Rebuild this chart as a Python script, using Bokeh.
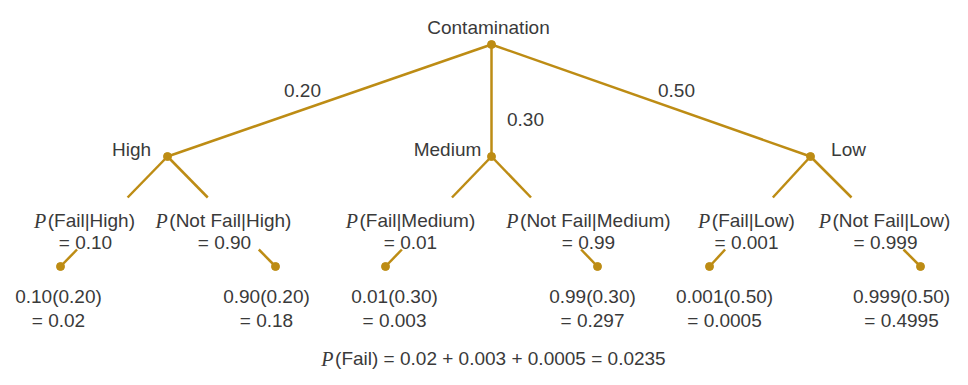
from bokeh.plotting import figure
from bokeh.models import Range1d
from bokeh.core.properties import value
from bokeh.embed import file_html
from bokeh.resources import INLINE

# ---------------- data ----------------
root_label = "Contamination"
categories = ["High", "Medium", "Low"]
prior_labels = ["0.20", "0.30", "0.50"]
fail_labels = ["0.10", "0.01", "0.001"]
notfail_labels = ["0.90", "0.99", "0.999"]
joint_fail = ["0.02", "0.003", "0.0005"]
joint_notfail = ["0.18", "0.297", "0.4995"]
total_fail = "0.0235"

# ---------------- layout (pixel space of the picture) ----------------
GOLD = "#BD8C14"
TXT = "#3a3a3a"
SANS = "Liberation Sans"
FS = 19
ROOT = (491, 44)
L1_X = [167, 491, 810]
L1_Y = 156
LEAF_X = [60, 275, 385, 597, 709, 920]
LEAF_Y = 266
GAP_TOP, GAP_BOT = 197, 249
COND_CX = [84, 223, 410, 588, 746, 884]
COND_VX = [85, 224, 410, 588, 746, 885]
COND_Y = (220, 242)
LEAF_CX = [58, 266, 394, 592, 724, 901]
LEAF_TY = (296, 320)
CAT_X = [131, 447, 848]
CAT_Y = 149
PRIOR_POS = [(302, 89.5), (525, 118.5), (676, 89.5)]
ROOT_LABEL_POS = (488, 27)
FORMULA_CX, FORMULA_Y = 493, 358

W = {' ': 278, '(': 333, ')': 333, '|': 260, '=': 584, '+': 584, '.': 278,
     'F': 611, 'H': 722, 'L': 556, 'M': 833, 'N': 722, 'a': 556, 'd': 556,
     'e': 556, 'g': 556, 'h': 556, 'i': 222, 'l': 222, 'm': 833, 'o': 556,
     't': 278, 'u': 556, 'w': 722}
for ch in "0123456789":
    W[ch] = 556


def tw(s, size=FS):
    return sum(W.get(c, 556) for c in s) * size / 1000.0


P_SIZE = 20
P_W = 0.611 * P_SIZE + 1.5

p = figure(width=952, height=369, x_range=Range1d(0, 952), y_range=Range1d(369, 0),
           output_backend="svg", toolbar_location=None, min_border=0,
           x_axis_location=None, y_axis_location=None)
p.grid.visible = False
p.outline_line_color = None
p.background_fill_color = "white"
p.border_fill_color = "white"

# level-1 branches
p.segment(x0=[ROOT[0]] * 3, y0=[ROOT[1]] * 3, x1=L1_X, y1=[L1_Y] * 3,
          line_color=GOLD, line_width=2.5)

# level-2 branches (interrupted by the labels)
x0s, y0s, x1s, y1s = [], [], [], []
for i, lx in enumerate(LEAF_X):
    px = L1_X[i // 2]

    def xat(y):
        return px + (lx - px) * (y - L1_Y) / (LEAF_Y - L1_Y)
    x0s += [px, xat(GAP_BOT)]
    y0s += [L1_Y, GAP_BOT]
    x1s += [xat(GAP_TOP), lx]
    y1s += [GAP_TOP, LEAF_Y]
p.segment(x0=x0s, y0=y0s, x1=x1s, y1=y1s, line_color=GOLD, line_width=2.5)

# nodes
p.scatter(x=[ROOT[0]] + L1_X + LEAF_X, y=[ROOT[1]] + [L1_Y] * 3 + [LEAF_Y] * 6,
          size=8, color=GOLD)


def sans_text(xs, ys, texts, align="center"):
    p.text(x=xs, y=ys, text=texts, text_align=align, text_baseline="alphabetic",
           text_font=value(SANS), text_font_size=value(f"{FS}px"), text_color=TXT)


def p_text(cx, y, rest):
    total = P_W + tw(rest)
    left = cx - total / 2
    p.text(x=[left], y=[y], text=["P"], text_align="left", text_baseline="alphabetic",
           text_font=value("Liberation Serif"), text_font_style="italic",
           text_font_size=value(f"{P_SIZE}px"), text_color=TXT)
    sans_text([left + P_W], [y], [rest], align="left")


sans_text([ROOT_LABEL_POS[0]], [ROOT_LABEL_POS[1]], [root_label])
sans_text(CAT_X, [CAT_Y] * 3, categories)
sans_text([q[0] for q in PRIOR_POS], [q[1] for q in PRIOR_POS], prior_labels)

cond_val = []
leaf_l1, leaf_l2 = [], []
for i, cat in enumerate(categories):
    p_text(COND_CX[2 * i], COND_Y[0], f"(Fail|{cat})")
    p_text(COND_CX[2 * i + 1], COND_Y[0], f"(Not Fail|{cat})")
    cond_val += [f"= {fail_labels[i]}", f"= {notfail_labels[i]}"]
    leaf_l1 += [f"{fail_labels[i]}({prior_labels[i]})", f"{notfail_labels[i]}({prior_labels[i]})"]
    leaf_l2 += [f"= {joint_fail[i]}", f"= {joint_notfail[i]}"]

sans_text(COND_VX, [COND_Y[1]] * 6, cond_val)
sans_text(LEAF_CX, [LEAF_TY[0]] * 6, leaf_l1)
sans_text(LEAF_CX, [LEAF_TY[1]] * 6, leaf_l2)

p_text(FORMULA_CX, FORMULA_Y, "(Fail) = " + " + ".join(joint_fail) + " = " + total_fail)

open("out.html", "w").write(file_html(p, INLINE))
